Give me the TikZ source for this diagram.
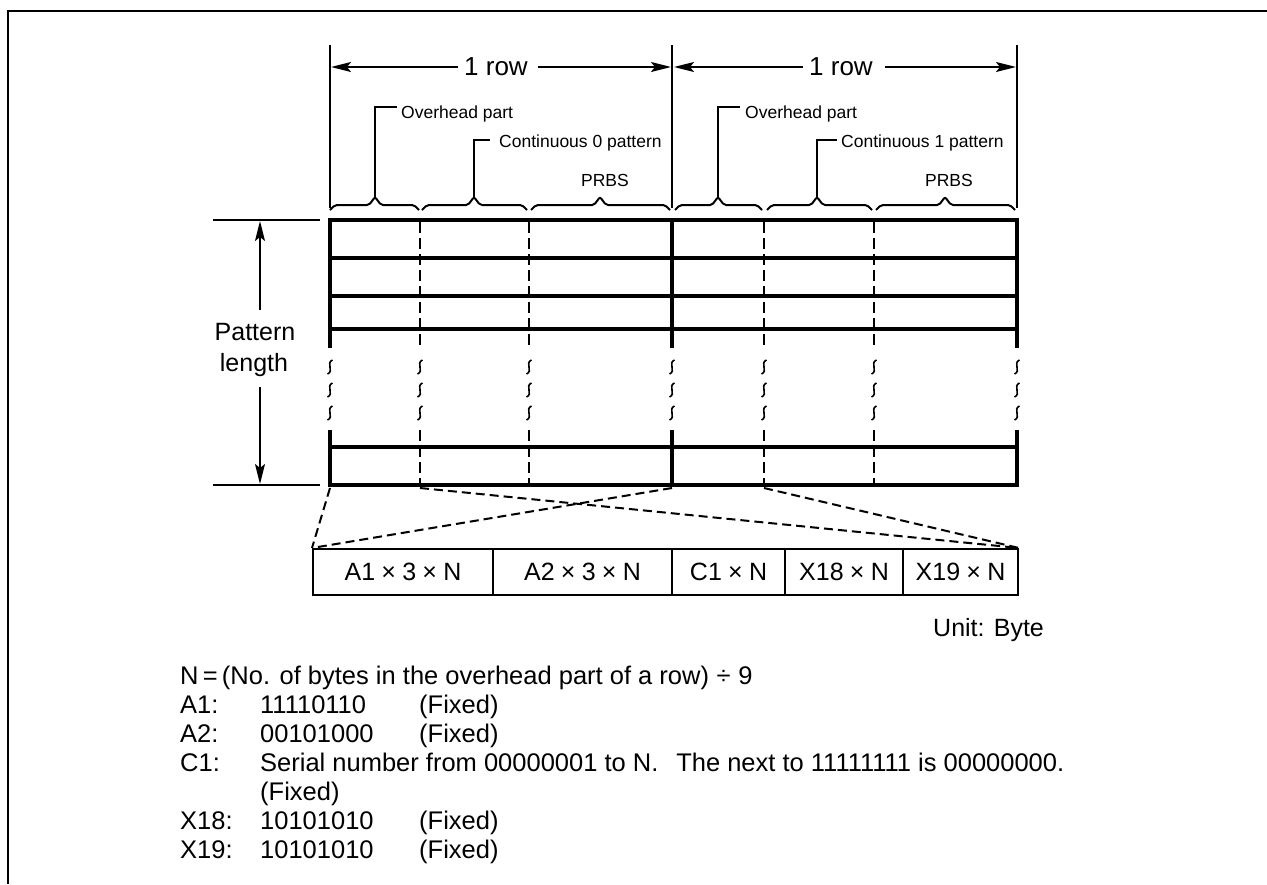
\documentclass[tikz,border=0pt]{standalone}
\usepackage{fontspec}
\setmainfont{Liberation Sans}
\usetikzlibrary{arrows.meta}
\newcommand{\upbrace}[3]{\draw[thinln, rounded corners=2pt] (#1,210) -- ({#1+5},205) -- ({#2-6},205) -- (#2,197) -- ({#2+6},205) -- ({#3-5},205) -- (#3,210);}
\newcommand{\tms}{\hspace{0.25em}×\hspace{0.25em}}
\begin{document}
\begin{tikzpicture}[x=1pt,y=-1pt,
  frameln/.style={line width=2.5pt},
  thinln/.style={line width=2pt},
  gridln/.style={line width=4.5pt, line cap=rect},
  dashv/.style={line width=2pt, dash pattern=on 11pt off 5pt},
  dashx/.style={line width=2pt, dash pattern=on 9pt off 5pt},
  arr/.style={-{Stealth[length=20pt,width=10pt,inset=4pt]}, line width=2pt},
  bigtxt/.style={font=\fontsize{25}{29}\selectfont, inner sep=0pt},
  rowtxt/.style={font=\fontsize{26}{30}\selectfont, inner sep=0pt},
  smtxt/.style={font=\fontsize{17.5}{20}\selectfont, inner sep=0pt},
  boxn/.style={draw, line width=2pt, inner sep=0pt, minimum height=46pt, font=\fontsize{25}{29}\selectfont},
  wav/.style={line width=1.6pt},
  txt/.style={font=\fontsize{25.5}{29}\selectfont, inner sep=0pt, anchor=base west}]
\useasboundingbox (0,0) rectangle (1267,884);
% frame
\draw[frameln] (1267,11) -- (8,11) -- (8,884);
% grid
\foreach \y in {220,258,296,329,447,485} \draw[gridln] (330,\y) -- (1017,\y);
\foreach \x in {330,672,1017} {\draw[gridln] (\x,220) -- (\x,346); \draw[gridln] (\x,432) -- (\x,485);}
\foreach \x in {420,529,764,874} {\draw[dashv] (\x,222) -- (\x,347); \draw[dashv] (\x,430) -- (\x,485);}
\foreach \x in {330,420,529,672,764,874,1017} \foreach \y in {367,390,413}
  \draw[wav] ({\x+2.5},{\y-7}) .. controls ({\x-4.5},{\y-4}) and ({\x+4.5},{\y+4}) .. ({\x-2.5},{\y+7});
% pattern length
\coordinate (pltl) at (213,220); \coordinate (pltr) at (320,220);
\coordinate (plbl) at (213,485); \coordinate (plbr) at (320,485);
\draw[thinln] (pltl) -- (pltr);
\draw[thinln] (plbl) -- (plbr);
\node[bigtxt, anchor=base] (pat) at (255,340) {Pattern};
\node[bigtxt, anchor=base] (len) at (254,371) {length};
\coordinate (plup0) at (260,310); \coordinate (plup1) at (260,221);
\coordinate (pldn0) at (260,387); \coordinate (pldn1) at (260,484);
\draw[arr] (plup0) -- (plup1);
\draw[arr] (pldn0) -- (pldn1);
% row dimension lines
\foreach \x in {330,672,1017} \draw[thinln] (\x,45) -- (\x,208);
\node[rowtxt] (rowa) at (496,67) {1 row};
\node[rowtxt] (rowb) at (841,67) {1 row};
\coordinate (ra0) at (458,67); \coordinate (ra1) at (331,67);
\coordinate (ra2) at (538,67); \coordinate (ra3) at (671,67);
\coordinate (rb0) at (803,67); \coordinate (rb1) at (674,67);
\coordinate (rb2) at (885,67); \coordinate (rb3) at (1016,67);
\draw[arr] (ra0) -- (ra1); \draw[arr] (ra2) -- (ra3);
\draw[arr] (rb0) -- (rb1); \draw[arr] (rb2) -- (rb3);
% braces
\upbrace{330}{375}{419}
\upbrace{422}{474}{527}
\upbrace{531}{600}{670}
\upbrace{675}{718}{762}
\upbrace{767}{817}{872}
\upbrace{876}{945}{1015}
% leaders and labels
\node[smtxt, anchor=base west] (oha) at (401,118) {Overhead part};
\node[smtxt, anchor=base west] (c0) at (499,147) {Continuous 0 pattern};
\node[smtxt, anchor=base] (pra) at (605,186) {PRBS};
\node[smtxt, anchor=base west] (ohb) at (745,118) {Overhead part};
\node[smtxt, anchor=base west] (c1) at (841,147) {Continuous 1 pattern};
\node[smtxt, anchor=base] (prb) at (949,186) {PRBS};
\draw[thinln] (375,197) -- (375,107) -- (397,107);
\draw[thinln] (474,197) -- (474,140) -- (490,140);
\draw[thinln] (718,197) -- (718,107) -- (740,107);
\draw[thinln] (817,197) -- (817,140) -- (837,140);
% expansion boxes
\node[boxn, minimum width=180pt] (b1) at (403,572) {A1\tms 3\tms N};
\node[boxn, minimum width=179pt] (b2) at (582.5,572) {A2\tms 3\tms N};
\node[boxn, minimum width=113pt] (b3) at (728.5,572) {C1\tms N};
\node[boxn, minimum width=118pt] (b4) at (844,572) {X18\tms N};
\node[boxn, minimum width=115pt] (b5) at (960.5,572) {X19\tms N};
\coordinate (e1) at (330,488); \coordinate (e2) at (420,488);
\coordinate (e3) at (672,488); \coordinate (e4) at (764,488);
\draw[dashx] (e1) -- (b1.north west);
\draw[dashx] (e2) -- (b5.north east);
\draw[dashx] (e3) -- (b1.north west);
\draw[dashx] (e4) -- (b5.north east);
\node[txt, font=\fontsize{25}{29}\selectfont] (unit) at (933,636) {Unit: Byte};
% notes
\node[txt] (n0) at (180,684) {N\,=\,(No. of bytes in the overhead part of a row)\hspace{0.3em}÷\hspace{0.3em}9};
\node[txt] (l1) at (180,713) {A1:};
\node[txt] (v1) at (260,713) {11110110};
\node[txt] (f1) at (419,713) {(Fixed)};
\node[txt] (l2) at (180,742) {A2:};
\node[txt] (v2) at (260,742) {00101000};
\node[txt] (f2) at (419,742) {(Fixed)};
\node[txt] (l3) at (180,771) {C1:};
\node[txt] (v3) at (260,771) {Serial number from 00000001 to N.\hspace{0.7em}The next to 11111111 is 00000000.};
\node[txt] (f3) at (260,800) {(Fixed)};
\node[txt] (l4) at (180,829) {X18:};
\node[txt] (v4) at (260,829) {10101010};
\node[txt] (f4) at (419,829) {(Fixed)};
\node[txt] (l5) at (180,858) {X19:};
\node[txt] (v5) at (260,858) {10101010};
\node[txt] (f5) at (419,858) {(Fixed)};
\end{tikzpicture}
\end{document}
